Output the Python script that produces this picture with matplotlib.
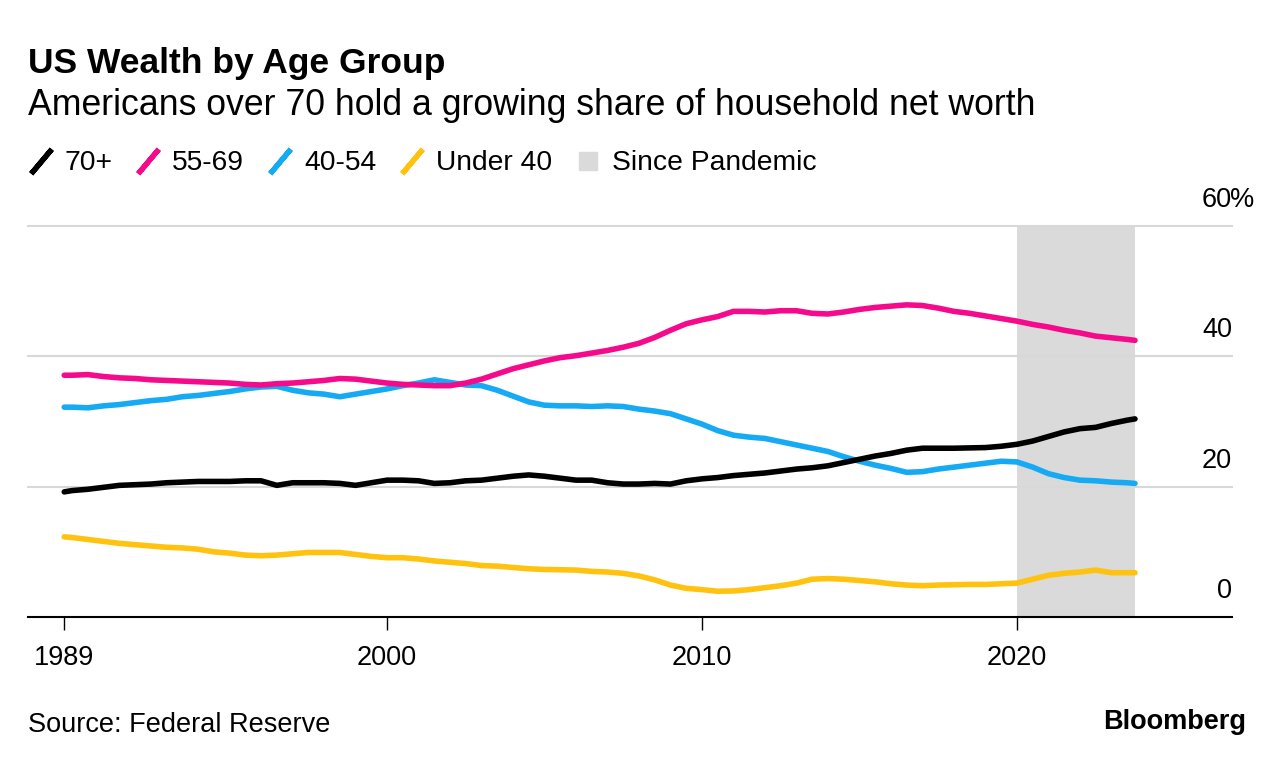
import numpy as np
import matplotlib.pyplot as plt
from matplotlib.lines import Line2D
from matplotlib import transforms

plt.rcParams['font.family'] = ['Liberation Sans', 'DejaVu Sans']

# Quarter-end dates: 1989Q3, then every half year, then 2023Q3
dates = [1989.75] + list(np.arange(1990.0, 2023.51, 0.5)) + [2023.75]

# Share of household net worth (%)
age_70_plus = [
    19.2, 19.4, 19.6, 19.9, 20.2, 20.3, 20.4, 20.6, 20.7, 20.8, 20.8,
    20.8, 20.9, 20.9, 20.2, 20.6, 20.6, 20.6, 20.5, 20.2, 20.6,
    21.0, 21.0, 20.9, 20.5, 20.6, 20.9, 21.0, 21.3, 21.6, 21.8,
    21.6, 21.3, 21.0, 21.0, 20.6, 20.4, 20.4, 20.5, 20.4, 20.9,
    21.2, 21.4, 21.7, 21.9, 22.1, 22.4, 22.7, 22.9, 23.2, 23.7,
    24.2, 24.7, 25.1, 25.6, 25.9, 25.9, 25.9, 25.95, 26.0, 26.2,
    26.5, 27.0, 27.7, 28.4, 28.9, 29.1, 29.7, 30.2,
    30.4,
]
age_55_69 = [
    37.1, 37.1, 37.2, 36.9, 36.7, 36.6, 36.4, 36.3, 36.2, 36.1, 36.0,
    35.9, 35.7, 35.6, 35.8, 35.9, 36.1, 36.3, 36.6, 36.5, 36.2,
    35.9, 35.7, 35.6, 35.5, 35.5, 35.9, 36.5, 37.3, 38.1, 38.7,
    39.3, 39.8, 40.1, 40.5, 40.9, 41.4, 42.0, 42.9, 44.0, 45.0,
    45.6, 46.1, 46.9, 46.9, 46.8, 47.0, 47.0, 46.6, 46.5, 46.8,
    47.2, 47.5, 47.7, 47.9, 47.8, 47.4, 46.9, 46.6, 46.2, 45.8,
    45.4, 44.9, 44.5, 44.0, 43.6, 43.1, 42.85, 42.6,
    42.45,
]
age_40_54 = [
    32.2, 32.2, 32.1, 32.4, 32.6, 32.9, 33.2, 33.4, 33.8, 34.0, 34.3,
    34.6, 35.0, 35.3, 35.4, 34.8, 34.4, 34.2, 33.8, 34.2, 34.6,
    35.0, 35.5, 35.9, 36.4, 36.0, 35.6, 35.5, 34.8, 33.9, 33.0,
    32.5, 32.4, 32.4, 32.3, 32.4, 32.3, 31.9, 31.6, 31.2, 30.4,
    29.6, 28.6, 27.9, 27.6, 27.4, 26.9, 26.4, 25.9, 25.4, 24.6,
    23.9, 23.3, 22.8, 22.2, 22.3, 22.7, 23.0, 23.3, 23.6, 23.9,
    23.8, 23.0, 22.0, 21.4, 21.0, 20.9, 20.7, 20.6,
    20.5,
]
under_40 = [
    12.3, 12.2, 11.9, 11.6, 11.3, 11.1, 10.9, 10.7, 10.6, 10.4, 10.0,
    9.8, 9.5, 9.4, 9.5, 9.7, 9.9, 9.9, 9.9, 9.6, 9.3,
    9.1, 9.1, 8.9, 8.6, 8.4, 8.2, 7.9, 7.8, 7.6, 7.4,
    7.3, 7.25, 7.2, 7.0, 6.9, 6.7, 6.3, 5.7, 4.9, 4.4,
    4.2, 3.95, 4.0, 4.2, 4.5, 4.8, 5.2, 5.8, 5.9, 5.8,
    5.6, 5.4, 5.1, 4.9, 4.8, 4.9, 4.95, 5.0, 5.0, 5.1,
    5.2, 5.8, 6.4, 6.7, 6.9, 7.2, 6.8, 6.8,
    6.8,
]

series_names = ['70+', '55-69', '40-54', 'Under 40']
series_values = [age_70_plus, age_55_69, age_40_54, under_40]
series_colors = ['#000000', '#f50a8c', '#16aaf5', '#ffc20e']
pandemic_start = 2020.0

xtick_pos = [1989.75, 2000, 2010, 2020]
xtick_labels = ['1989', '2000', '2010', '2020']
ytick_vals = [0, 20, 40, 60]

shade = '#dadada'
grid = '#d8d8d8'

fig = plt.figure(figsize=(12.85, 7.64), dpi=100)
ax = fig.add_axes([28 / 1285, 1 - 617 / 764, 1204 / 1285, 391 / 764])

ax.axvspan(pandemic_start, dates[-1], color=shade, lw=0, zorder=0)
for v in ytick_vals[1:]:
    ax.axhline(v, color=grid, lw=1.5, zorder=1, clip_on=False)

# draw back to front so black sits on top
for name, vals, color in reversed(list(zip(series_names, series_values, series_colors))):
    assert len(vals) == len(dates), name
    ax.plot(dates, vals, color=color, lw=4.0, solid_capstyle='round', zorder=3)

ax.set_xlim(1988.6, 2026.83)
ax.set_ylim(0, 60)
for side in ['top', 'left', 'right']:
    ax.spines[side].set_visible(False)
ax.spines['bottom'].set_linewidth(1.5)
ax.spines['bottom'].set_color('black')

ax.set_xticks(xtick_pos, xtick_labels)
ax.tick_params(axis='x', length=9, width=1, pad=11, labelsize=19.5, colors='black')
ax.set_yticks([])

# value labels sit above their gridlines on the right
lab_trans = transforms.offset_copy(ax.get_yaxis_transform(), fig=fig, y=13.7, units='points')
pct_trans = transforms.offset_copy(ax.get_yaxis_transform(), fig=fig, x=-1.5, y=13.7, units='points')
for v in ytick_vals:
    ax.text(1.0, v, f'{v}', transform=lab_trans, ha='right', va='baseline', fontsize=19.5)
ax.text(1.0, ytick_vals[-1], '%', transform=pct_trans, ha='left', va='baseline', fontsize=19.5)

# legend
handles = [Line2D([], [], ls='none', marker=(2, 2, -40), markersize=23,
                  markeredgewidth=3.8, markeredgecolor=c) for c in series_colors]
handles.append(Line2D([], [], ls='none', marker='s', markersize=12.5,
                      markerfacecolor=shade, markeredgecolor=shade))
fig.legend(handles, series_names + ['Since Pandemic'], loc='center left',
           bbox_to_anchor=(0.0207, 0.786), ncol=5, frameon=False, fontsize=20.3,
           handlelength=1.0, handletextpad=0.34, columnspacing=0.78,
           borderpad=0, borderaxespad=0)

fig.text(28 / 1285, 1 - 73.3 / 764, 'US Wealth by Age Group', fontsize=25.5,
         weight='bold', va='baseline')
fig.text(28 / 1285, 1 - 115 / 764, 'Americans over 70 hold a growing share of household net worth',
         fontsize=25.7, va='baseline')
fig.text(28 / 1285, 1 - 731.7 / 764, 'Source: Federal Reserve', fontsize=19.5, va='baseline')
fig.text(1246 / 1285, 1 - 729 / 764, 'Bloomberg', fontsize=19.5, weight='bold',
         ha='right', va='baseline')

fig.savefig('out.png', dpi=100)
